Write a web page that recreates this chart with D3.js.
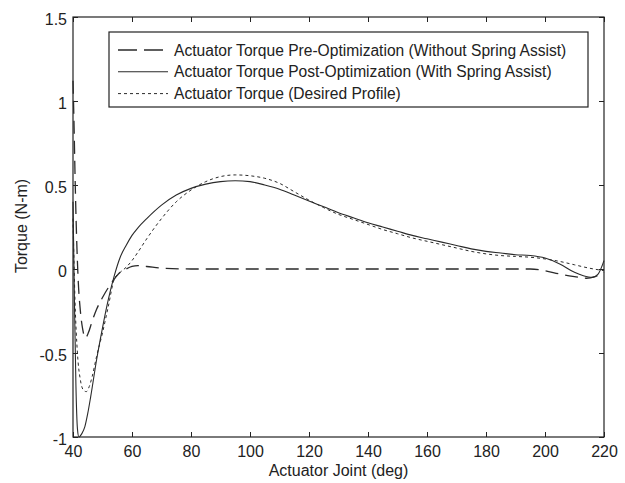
<!DOCTYPE html>
<html>
<head>
<meta charset="utf-8">
<script src="https://cdn.jsdelivr.net/npm/d3@7"></script>
<style>
  body { margin: 0; background: #fff; }
</style>
</head>
<body>
<div id="chart"></div>
<script>
// Data
const xTicks = [40, 60, 80, 100, 120, 140, 160, 180, 200, 220];
const yTicks = [-1, -0.5, 0, 0.5, 1, 1.5];

const preAngle = [40, 40.3, 40.7, 41.2, 41.8, 42.5, 43.3, 44.2, 45.2, 46.5, 48, 50, 52, 54, 56, 58, 60, 62, 65, 70, 80, 100, 120, 140, 160, 180, 195, 200, 205, 210, 214, 217, 220];
const preTorque = [1.12, 0.9, 0.55, 0.2, -0.08, -0.25, -0.36, -0.41, -0.38, -0.31, -0.24, -0.17, -0.11, -0.06, -0.02, 0.0, 0.015, 0.02, 0.015, 0.005, 0, 0, 0, 0, 0, 0, 0, -0.01, -0.03, -0.045, -0.055, -0.045, -0.02];

const postAngle = [40, 40.5, 41, 41.5, 42, 43, 44, 45, 46, 48, 50, 52, 54, 56, 58, 60, 62, 65, 70, 75, 80, 85, 90, 95, 100, 105, 110, 115, 120, 125, 130, 135, 140, 145, 150, 155, 160, 165, 170, 175, 180, 185, 190, 195, 200, 205, 210, 213, 216, 218, 220];
const postTorque = [0.4, -0.2, -0.7, -0.95, -1.0, -0.98, -0.94, -0.86, -0.76, -0.54, -0.35, -0.18, -0.04, 0.07, 0.14, 0.2, 0.245, 0.3, 0.38, 0.44, 0.48, 0.505, 0.52, 0.525, 0.52, 0.5, 0.475, 0.44, 0.405, 0.37, 0.335, 0.305, 0.275, 0.25, 0.225, 0.2, 0.18, 0.16, 0.14, 0.12, 0.105, 0.095, 0.085, 0.08, 0.065, 0.03, -0.02, -0.04, -0.05, -0.03, 0.05];

const desiredAngle = [40, 40.7, 41.5, 42.5, 43.5, 44.5, 45.5, 46.5, 48, 50, 52, 54, 56, 58, 60, 62, 65, 70, 75, 80, 85, 90, 95, 100, 105, 110, 115, 120, 125, 130, 135, 140, 145, 150, 155, 160, 165, 170, 175, 180, 185, 190, 195, 200, 205, 210, 215, 220];
const desiredTorque = [0.3, -0.2, -0.5, -0.66, -0.72, -0.73, -0.7, -0.64, -0.52, -0.38, -0.22, -0.06, -0.02, 0.01, 0.05, 0.1, 0.18, 0.3, 0.4, 0.47, 0.52, 0.55, 0.56, 0.555, 0.54, 0.51, 0.46, 0.41, 0.365, 0.325, 0.295, 0.265, 0.235, 0.21, 0.185, 0.165, 0.145, 0.125, 0.105, 0.09, 0.08, 0.075, 0.07, 0.06, 0.045, 0.025, 0.005, -0.01];

const seriesNames = [
  "Actuator Torque Pre-Optimization (Without Spring Assist)",
  "Actuator Torque Post-Optimization (With Spring Assist)",
  "Actuator Torque (Desired Profile)"
];

const width = 625;
const height = 483;
const margin = { top: 17, right: 21, bottom: 46, left: 73 };
const innerWidth = width - margin.left - margin.right;
const innerHeight = height - margin.top - margin.bottom;
const fontFamily = "Liberation Sans, Arial, sans-serif";
const ink = "#222";

const svg = d3.select("#chart")
  .append("svg")
  .attr("width", width)
  .attr("height", height)
  .attr("font-family", fontFamily);

const g = svg.append("g")
  .attr("transform", `translate(${margin.left},${margin.top})`);

const xScale = d3.scaleLinear().domain([40, 220]).range([0, innerWidth]);
const yScale = d3.scaleLinear().domain([-1, 1.5]).range([innerHeight, 0]);

// Axes (matlab style box, ticks inside)
const tickLen = 5;
g.append("g")
  .attr("transform", `translate(0,${innerHeight})`)
  .call(d3.axisBottom(xScale).tickValues(xTicks).tickSizeInner(-tickLen).tickSizeOuter(0).tickPadding(9).tickFormat(d3.format("d")))
  .call(a => a.select(".domain").remove())
  .call(a => a.attr("font-size", 16).attr("font-family", fontFamily))
  .call(a => a.selectAll("text").attr("fill", ink));

g.append("g")
  .call(d3.axisTop(xScale).tickValues(xTicks).tickSizeInner(-tickLen).tickSizeOuter(0))
  .call(a => a.select(".domain").remove())
  .call(a => a.selectAll("text").remove());

g.append("g")
  .call(d3.axisLeft(yScale).tickValues(yTicks).tickSizeInner(-tickLen).tickSizeOuter(0).tickPadding(6).tickFormat(d => String(d)))
  .call(a => a.select(".domain").remove())
  .call(a => a.attr("font-size", 16).attr("font-family", fontFamily))
  .call(a => a.selectAll("text").attr("fill", ink).attr("dy", "0.45em"));

g.append("g")
  .attr("transform", `translate(${innerWidth},0)`)
  .call(d3.axisRight(yScale).tickValues(yTicks).tickSizeInner(-tickLen).tickSizeOuter(0))
  .call(a => a.select(".domain").remove())
  .call(a => a.selectAll("text").remove());

g.selectAll(".tick line").attr("stroke", ink);

g.append("rect")
  .attr("width", innerWidth)
  .attr("height", innerHeight)
  .attr("fill", "none")
  .attr("stroke", ink)
  .attr("stroke-width", 1.2);

// Axis labels
svg.append("text")
  .attr("x", margin.left + innerWidth / 2)
  .attr("y", 476)
  .attr("text-anchor", "middle")
  .attr("font-size", 16)
  .attr("fill", ink)
  .text("Actuator Joint (deg)");

svg.append("text")
  .attr("transform", `translate(27,226) rotate(-90)`)
  .attr("text-anchor", "middle")
  .attr("font-size", 16)
  .attr("fill", ink)
  .text("Torque (N-m)");

// Lines
const styles = [
  { dash: "13,7", legendDash: "19,7", width: 1.3 },
  { dash: null, legendDash: null, width: 1.1 },
  { dash: "3,3", legendDash: "3,3", width: 1.0 }
];

const series = [
  d3.zip(preAngle, preTorque),
  d3.zip(postAngle, postTorque),
  d3.zip(desiredAngle, desiredTorque)
];

const line = d3.line()
  .x(d => xScale(d[0]))
  .y(d => yScale(d[1]))
  .curve(d3.curveMonotoneX);

series.forEach((s, i) => {
  g.append("path")
    .datum(s)
    .attr("fill", "none")
    .attr("stroke", "#2a2a2a")
    .attr("stroke-width", styles[i].width)
    .attr("stroke-dasharray", styles[i].dash)
    .attr("d", line);
});

// Legend
const legend = svg.append("g").attr("transform", "translate(109,32)");
legend.append("rect")
  .attr("width", 479)
  .attr("height", 75)
  .attr("fill", "#fff")
  .attr("stroke", ink)
  .attr("stroke-width", 1.2);

seriesNames.forEach((name, i) => {
  const y = 18 + i * 21.8;
  legend.append("line")
    .attr("x1", 9).attr("x2", 59)
    .attr("y1", y).attr("y2", y)
    .attr("stroke", "#2a2a2a")
    .attr("stroke-width", styles[i].width)
    .attr("stroke-dasharray", styles[i].legendDash);
  legend.append("text")
    .attr("x", 65)
    .attr("y", y + 5.5)
    .attr("font-size", 15.6)
    .attr("fill", ink)
    .text(name);
});
</script>
</body>
</html>
